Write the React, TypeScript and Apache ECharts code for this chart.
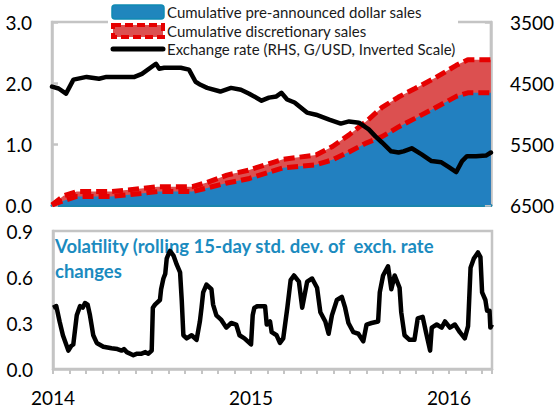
import React, { useEffect, useRef } from "react";
import * as echarts from "echarts";

// x values are months since January 2014
const yearLabels = ["2014", "2015", "2016"];
const leftTicks = [0, 1, 2, 3];
const rightTicks = [3500, 4500, 5500, 6500];

const areaMonths = [0, 0.7, 1.5, 3.6, 5.4, 6.4, 8.5, 9.4, 10.6, 11.9, 14.0, 16.0, 17.0, 18.0, 19.0, 20.0, 21.0, 22.0, 23.2, 24.5, 25.2, 26.6];
const preAnnounced = [0, 0.07, 0.14, 0.14, 0.19, 0.22, 0.22, 0.28, 0.36, 0.43, 0.61, 0.66, 0.74, 0.87, 1.01, 1.12, 1.28, 1.42, 1.59, 1.78, 1.84, 1.84];
const discretionary = [0, 0.08, 0.08, 0.08, 0.08, 0.08, 0.08, 0.09, 0.13, 0.14, 0.14, 0.16, 0.22, 0.28, 0.35, 0.48, 0.49, 0.49, 0.49, 0.51, 0.54, 0.54];

const exchangeRate: [number, number][] = [
  [0, 4560], [0.4, 4590], [0.85, 4675], [1.3, 4445], [2.1, 4400], [2.85, 4430], [3.3, 4400],
  [5.0, 4400], [5.45, 4350], [6.3, 4185], [6.5, 4265], [6.8, 4250], [7.8, 4250], [8.3, 4280],
  [8.7, 4480], [9.0, 4530], [9.4, 4580], [10.2, 4640], [10.85, 4580], [11.45, 4610], [11.95, 4675],
  [12.7, 4790], [13.15, 4740], [13.6, 4720], [13.9, 4660], [14.25, 4770], [14.7, 4820], [15.45, 4985],
  [16.0, 5020], [16.8, 5100], [17.5, 5165], [18.0, 5130], [18.6, 5150], [19.2, 5260], [19.6, 5375],
  [20.0, 5475], [20.55, 5620], [21.0, 5640], [21.3, 5620], [21.8, 5570], [22.4, 5670], [23.0, 5780],
  [23.6, 5800], [24.05, 5880], [24.5, 5960], [24.85, 5780], [25.15, 5700], [25.7, 5700], [26.3, 5690],
  [26.6, 5640],
];

const volatility: [number, number][] = [
  [0, 0.40], [0.2, 0.41], [0.4, 0.31], [0.6, 0.22], [0.8, 0.16], [0.93, 0.12], [1.1, 0.15], [1.23, 0.16],
  [1.44, 0.35], [1.64, 0.41], [1.8, 0.40], [1.94, 0.43], [2.1, 0.42], [2.24, 0.35], [2.44, 0.22],
  [2.65, 0.17], [3.05, 0.145], [3.55, 0.135], [3.9, 0.13], [4.16, 0.12], [4.3, 0.13], [4.47, 0.11],
  [4.87, 0.09], [5.1, 0.1], [5.37, 0.10], [5.6, 0.11], [5.78, 0.10], [5.98, 0.12], [6.05, 0.40],
  [6.18, 0.42], [6.48, 0.45], [6.55, 0.52], [6.69, 0.59], [6.8, 0.62], [6.89, 0.72], [7.0, 0.75],
  [7.09, 0.77], [7.3, 0.74], [7.5, 0.68], [7.7, 0.63], [7.8, 0.45], [7.9, 0.22], [8.1, 0.20],
  [8.4, 0.22], [8.7, 0.19], [8.9, 0.31], [9.0, 0.40], [9.1, 0.50], [9.3, 0.55], [9.6, 0.52],
  [9.7, 0.42], [9.9, 0.35], [10.2, 0.32], [10.5, 0.27], [10.8, 0.30], [11.1, 0.29], [11.3, 0.22],
  [11.6, 0.20], [12.0, 0.16], [12.1, 0.35], [12.2, 0.40], [12.4, 0.41], [12.85, 0.41], [12.95, 0.29],
  [13.15, 0.31], [13.25, 0.24], [13.55, 0.22], [13.75, 0.17], [13.95, 0.20], [14.2, 0.40], [14.4, 0.58],
  [14.6, 0.61], [14.9, 0.57], [15.1, 0.40], [15.4, 0.57], [15.7, 0.59], [16.0, 0.53], [16.2, 0.37],
  [16.5, 0.31], [16.7, 0.23], [16.9, 0.35], [17.2, 0.45], [17.5, 0.47], [17.7, 0.40], [17.9, 0.30],
  [18.2, 0.24], [18.5, 0.23], [18.8, 0.18], [19.0, 0.29], [19.3, 0.30], [19.7, 0.31], [19.8, 0.50],
  [20.0, 0.61], [20.3, 0.67], [20.5, 0.52], [20.7, 0.61], [21.0, 0.53], [21.1, 0.37], [21.3, 0.22],
  [21.6, 0.19], [21.9, 0.19], [22.1, 0.33], [22.4, 0.34], [22.6, 0.24], [22.85, 0.12], [22.95, 0.27],
  [23.25, 0.29], [23.55, 0.27], [23.75, 0.31], [24.05, 0.27], [24.35, 0.29], [24.65, 0.24], [24.95, 0.20],
  [25.15, 0.28], [25.3, 0.66], [25.5, 0.72], [25.75, 0.76], [25.9, 0.73], [26.0, 0.50], [26.2, 0.45],
  [26.3, 0.38], [26.45, 0.38], [26.5, 0.27], [26.6, 0.29],
];

const legendNames = [
  "Cumulative pre-announced dollar sales",
  "Cumulative discretionary sales",
  "Exchange rate (RHS, G/USD, Inverted Scale)",
];
const panelTitle = "Volatility (rolling 15-day std. dev. of  exch. rate\nchanges";

const X_MAX = 26.6;
const FONT = "Lato";
const GRAY = "#c4c4c4";
const BLUE = "#2280c0";
const RED_FILL = "#dc5050";
const RED_LINE = "#e60000";

export default function App() {
  const ref = useRef<HTMLDivElement>(null);
  useEffect(() => {
    document.body.style.margin = "0";
    const chart = echarts.init(ref.current!, null, { renderer: "svg" });
    const preData = areaMonths.map((m, i) => [m, preAnnounced[i]]);
    const totalData = areaMonths.map((m, i) => [m, +(preAnnounced[i] + discretionary[i]).toFixed(3)]);

    const axisLabelStyle = { fontFamily: FONT, fontSize: 19, color: "#000" };

    chart.setOption({
      animation: false,
      backgroundColor: "#fff",
      grid: [
        { left: 52, right: 65, top: 22, height: 183, show: true, borderColor: GRAY, borderWidth: 2.5 },
        { left: 53, right: 65, top: 231, height: 138, show: true, borderColor: GRAY, borderWidth: 2.5 },
      ],
      xAxis: [
        {
          type: "value", gridIndex: 0, min: 0, max: X_MAX, interval: 1,
          axisLine: { show: true, onZero: false, lineStyle: { color: "#1a86ad", width: 3 } },
          axisTick: { show: false }, axisLabel: { show: false }, splitLine: { show: false },
        },
        {
          type: "value", gridIndex: 1, min: 0, max: X_MAX, interval: 1,
          axisLine: { show: true, onZero: false, lineStyle: { color: GRAY, width: 2.5 } },
          axisTick: { show: true, length: 5, lineStyle: { color: GRAY, width: 2 } },
          axisLabel: {
            ...axisLabelStyle, margin: 19,
            formatter: (v: number) => (Math.abs(v % 12) < 1e-6 ? yearLabels[Math.round(v / 12)] ?? "" : ""),
          },
          splitLine: { show: false },
        },
      ],
      yAxis: [
        {
          type: "value", gridIndex: 0, min: leftTicks[0], max: leftTicks[leftTicks.length - 1], interval: 1,
          axisLine: { show: true, lineStyle: { color: GRAY, width: 2.5 } },
          axisTick: { show: true, inside: true, length: 6, lineStyle: { color: GRAY, width: 2.5 } },
          axisLabel: { ...axisLabelStyle, margin: 20, formatter: (v: number) => v.toFixed(1) },
          splitLine: { show: false },
        },
        {
          type: "value", gridIndex: 0, position: "right", inverse: true,
          min: rightTicks[0], max: rightTicks[rightTicks.length - 1], interval: 1000,
          axisLine: { show: true, lineStyle: { color: GRAY, width: 2.5 } },
          axisTick: { show: true, inside: true, length: 6, lineStyle: { color: GRAY, width: 2.5 } },
          axisLabel: { ...axisLabelStyle, margin: 19, formatter: (v: number) => String(v) },
          splitLine: { show: false },
        },
        {
          type: "value", gridIndex: 1, min: 0, max: 0.9, interval: 0.3,
          axisLine: { show: true, lineStyle: { color: GRAY, width: 2.5 } },
          axisTick: { show: false },
          axisLabel: { ...axisLabelStyle, margin: 20, formatter: (v: number) => v.toFixed(1) },
          splitLine: { show: false },
        },
      ],
      series: [
        {
          name: legendNames[1], type: "line", xAxisIndex: 0, yAxisIndex: 0, data: totalData,
          symbol: "none", z: 2,
          lineStyle: { color: RED_LINE, width: 5, type: [11, 5] },
          areaStyle: { color: RED_FILL, opacity: 1 },
        },
        {
          name: legendNames[0], type: "line", xAxisIndex: 0, yAxisIndex: 0, data: preData,
          symbol: "none", z: 3,
          lineStyle: { width: 0, color: BLUE },
          areaStyle: { color: BLUE, opacity: 1 },
        },
        {
          name: "discretionary-lower-edge", type: "line", xAxisIndex: 0, yAxisIndex: 0, data: preData,
          symbol: "none", z: 4,
          lineStyle: { color: RED_LINE, width: 5, type: [11, 5] },
        },
        {
          name: legendNames[2], type: "line", xAxisIndex: 0, yAxisIndex: 1, data: exchangeRate,
          symbol: "none", z: 5,
          lineStyle: { color: "#000", width: 4.5, join: "round", cap: "round" },
        },
        {
          name: "Volatility", type: "line", xAxisIndex: 1, yAxisIndex: 2, data: volatility,
          symbol: "none", z: 5,
          lineStyle: { color: "#000", width: 4.5, join: "round" },
        },
      ],
      graphic: [
        { type: "rect", z: 20, shape: { x: 108, y: 0, width: 350, height: 57 }, style: { fill: "#fff" } },
        {
          type: "rect", z: 21, shape: { x: 112, y: 5, width: 52, height: 14, r: 3 },
          style: { fill: "#1f86bd", stroke: "#0f8ab3", lineWidth: 1.5 },
        },
        {
          type: "rect", z: 21, shape: { x: 113, y: 25, width: 50, height: 12 },
          style: { fill: RED_FILL, stroke: RED_LINE, lineWidth: 4, lineDash: [8, 4] },
        },
        {
          type: "line", z: 21, shape: { x1: 113, y1: 49, x2: 163, y2: 49 },
          style: { stroke: "#000", lineWidth: 5, lineCap: "round" },
        },
        ...legendNames.map((t, i) => ({
          type: "text", z: 21, x: 167, y: [12, 31, 49][i],
          style: { text: t, fill: "#1a1a1a", font: `15px ${FONT}`, verticalAlign: "middle", align: "left" },
        })),
        {
          type: "text", z: 1, x: 55, y: 233,
          style: {
            text: panelTitle, fill: "#1b8bbf", font: `bold 18.5px ${FONT}`, lineHeight: 25,
            verticalAlign: "top", align: "left",
          },
        },
      ],
    });
    return () => chart.dispose();
  }, []);
  return <div ref={ref} style={{ position: "fixed", left: 0, top: 0, width: 557, height: 409 }} />;
}
